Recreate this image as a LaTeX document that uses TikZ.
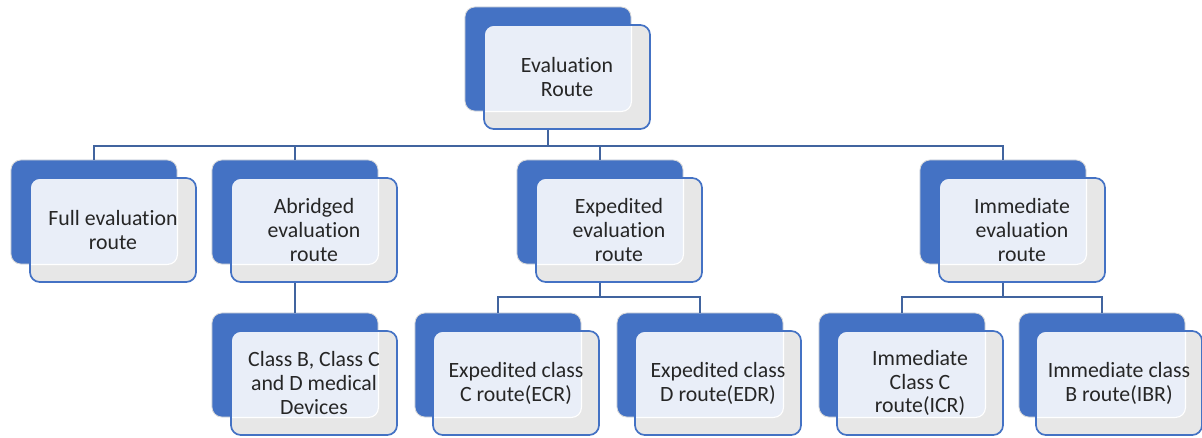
\documentclass[tikz,border=0pt]{standalone}
\usepackage{fontspec}
\setmainfont{Carlito}[Ligatures=NoCommon]
\definecolor{boxblue}{HTML}{4472C4}
\definecolor{frontgray}{HTML}{E7E7E7}
\definecolor{frontblue}{HTML}{E9EEF8}
\definecolor{linkblue}{HTML}{41649F}
\tikzset{
  backbox/.style={rectangle, rounded corners=7pt, fill=boxblue, draw=black!15, line width=0.6pt,
    minimum width=4.15cm, minimum height=2.6cm, inner sep=0pt},
  frontbox/.style={rectangle, rounded corners=7pt, fill=frontgray, draw=boxblue, line width=1.2pt,
    minimum width=4.15cm, minimum height=2.6cm, align=center, text=black!85,
    font=\fontsize{15.5}{17}\selectfont,
    path picture={\fill[frontblue, rounded corners=7pt] (#1.north west) rectangle (#1.south east);
      \draw[white, line width=0.8pt, rounded corners=7pt] (#1.north west) rectangle (#1.south east);}},
  link/.style={draw=linkblue, line width=1.5pt}
}
\begin{document}
\begin{tikzpicture}[x=0.025cm, y=-0.025cm]
\useasboundingbox (0,0) rectangle (1202,437);

\node[backbox] (rootb) at (548,59) {};
\node[backbox] (fullb) at (94,212) {};
\node[backbox] (abrb)  at (295,212) {};
\node[backbox] (expb)  at (600,212) {};
\node[backbox] (immb)  at (1003,212) {};
\node[backbox] (abrcb) at (295,365) {};
\node[backbox] (ecrb)  at (498,365) {};
\node[backbox] (edrb)  at (700,365) {};
\node[backbox] (icrb)  at (902,365) {};
\node[backbox] (ibrb)  at (1102,365) {};

\node[frontbox=rootb] (root) at (567,77)  {Evaluation\\Route};
\node[frontbox=fullb] (full) at (113,230) {Full evaluation\\route};
\node[frontbox=abrb]  (abr)  at (314,230) {Abridged\\evaluation\\route};
\node[frontbox=expb]  (exp)  at (619,230) {Expedited\\evaluation\\route};
\node[frontbox=immb]  (imm)  at (1022,230) {Immediate\\evaluation\\route};
\node[frontbox=abrcb] (abrc) at (314,383) {Class B, Class C\\and D medical\\Devices};
\node[frontbox=ecrb]  (ecr)  at (516,383) {Expedited class\\C route(ECR)};
\node[frontbox=edrb]  (edr)  at (718,383) {Expedited class\\D route(EDR)};
\node[frontbox=icrb]  (icr)  at (920,383) {Immediate\\Class C\\route(ICR)};
\node[frontbox=ibrb]  (ibr)  at (1119,383) {Immediate class\\B route(IBR)};

\coordinate (bus) at (548,146);
\coordinate (expbus) at (600,297);
\coordinate (immbus) at (1003,297);

\draw[link] (rootb.south |- root.south) -- (bus);
\draw[link] (bus) -| (fullb.north);
\draw[link] (bus) -| (abrb.north);
\draw[link] (bus) -| (expb.north);
\draw[link] (bus) -| (immb.north);
\draw[link] (abrb.south |- abr.south) -- (abrcb.north);
\draw[link] (expb.south |- exp.south) -- (expbus);
\draw[link] (expbus) -| (ecrb.north);
\draw[link] (expbus) -| (edrb.north);
\draw[link] (immb.south |- imm.south) -- (immbus);
\draw[link] (immbus) -| (icrb.north);
\draw[link] (immbus) -| (ibrb.north);
\end{tikzpicture}
\end{document}
